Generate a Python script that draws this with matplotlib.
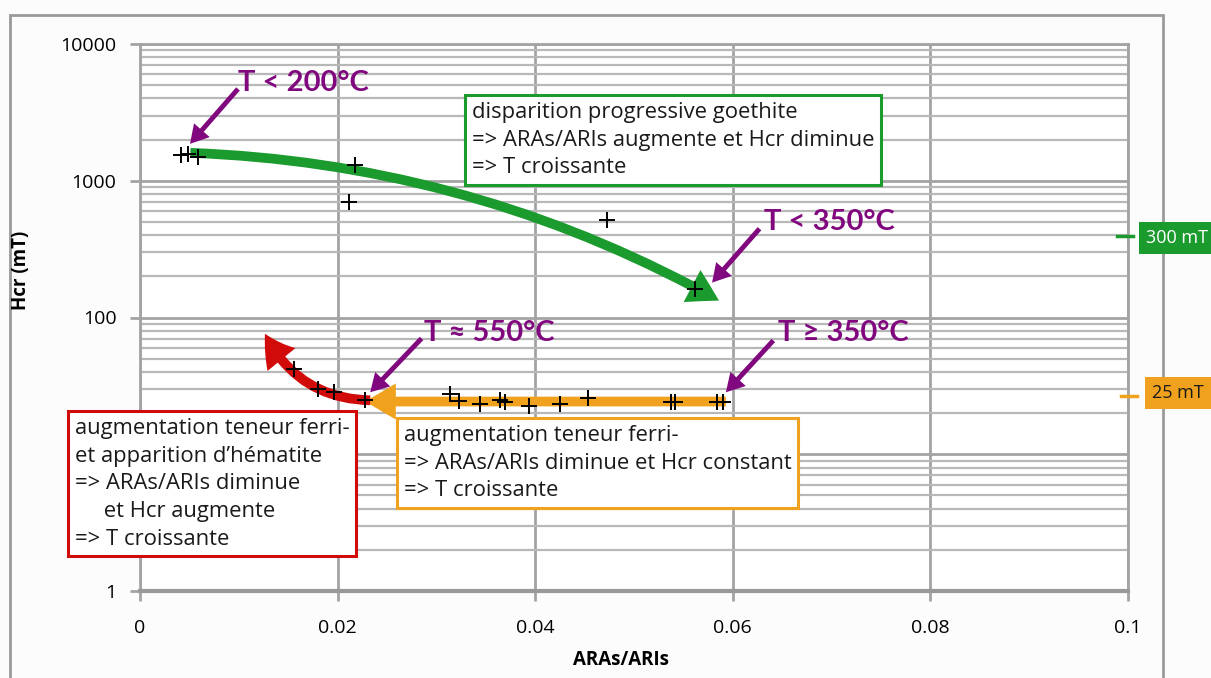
import matplotlib
matplotlib.use("Agg")
import matplotlib.pyplot as plt
from matplotlib.patches import FancyArrowPatch, Rectangle
from matplotlib.lines import Line2D
import numpy as np

# ---------------- data ----------------
ara_ari = [0.0042, 0.0049, 0.0059, 0.0218, 0.0212, 0.0473, 0.0562,
           0.0156, 0.0180, 0.0196, 0.0228, 0.0314, 0.0323, 0.0344,
           0.0364, 0.0369, 0.0394, 0.0425, 0.0453, 0.0537, 0.0541,
           0.0584, 0.0590]
hcr = [1550, 1560, 1500, 1300, 695, 517, 162,
       42, 29.8, 28.5, 24.8, 27.7, 24.4, 23.4,
       24.8, 24.1, 22.4, 23.4, 25.9, 24.1, 24.1,
       24.1, 24.1]

x_ticks = [0, 0.02, 0.04, 0.06, 0.08, 0.1]
x_tick_labels = ["0", "0.02", "0.04", "0.06", "0.08", "0.1"]
y_ticks = [1, 10, 100, 1000, 10000]
y_tick_labels = ["1", "10", "100", "1000", "10000"]

W, H = 1211, 678
fig = plt.figure(figsize=(W / 100, H / 100), dpi=100, facecolor="#fcfcfc")

def fx(px):
    return px / W

def fy(py):
    return 1 - py / H

ax = fig.add_axes([fx(140), fy(591), fx(1128) - fx(140), fy(44) - fy(591)])
ax.set_facecolor("white")
ax.set_yscale("log")
ax.set_xlim(0, 0.1)
ax.set_ylim(1, 10000)

GRID = "#a3a3a3"
ax.set_xticks(x_ticks)
ax.set_xticklabels(x_tick_labels, fontsize=14, family="Open Sans")
ax.set_yticks(y_ticks)
ylabels = ax.set_yticklabels(y_tick_labels, fontsize=14, family="Open Sans")
# the "10" label is hidden behind the red annotation box in the original
ylabels[1].set_visible(False)
ax.yaxis.set_minor_locator(matplotlib.ticker.LogLocator(base=10, subs=np.arange(2, 10)))
ax.yaxis.set_minor_formatter(matplotlib.ticker.NullFormatter())
ax.tick_params(axis="y", which="major", length=7, width=2, color=GRID, pad=10)
ax.tick_params(axis="y", which="minor", length=0)
ax.tick_params(axis="x", which="major", length=7, width=2, color=GRID, pad=13)
ax.grid(True, which="major", axis="both", color=GRID, lw=2.0)
ax.grid(True, which="minor", axis="y", color="#b8b8b8", lw=1.6)
ax.set_axisbelow(True)
for s in ["top", "left", "right"]:
    ax.spines[s].set_color(GRID)
    ax.spines[s].set_linewidth(2)
ax.spines["bottom"].set_color("#999999")
ax.spines["bottom"].set_linewidth(3)

ax.set_xlabel("ARAs/ARIs", fontsize=13.5, fontweight="bold", family="Open Sans")
ax.set_ylabel("Hcr (mT)", fontsize=13.5, fontweight="bold", family="Open Sans")
ax.xaxis.set_label_coords((621 - 140) / 988, (591 - 650) / 547)
ax.yaxis.set_label_coords((31 - 140) / 988, (591 - 270) / 547)

# ---------------- data points ----------------
ax.plot(ara_ari, hcr, linestyle="none", marker="+", color="black",
        markersize=12, markeredgewidth=1.4, zorder=6)

# ---------------- big coloured arrows ----------------
GREEN = "#1b9a2e"
ORANGE = "#f0a21e"
RED = "#d10a0a"
PURPLE = "#80077e"

def big_arrow(p0, p1, color, rad, tw=7, hw=26, hl=22, z=4):
    a = FancyArrowPatch(p0, p1, transform=ax.transData,
                        connectionstyle=f"arc3,rad={rad}",
                        arrowstyle=f"simple,head_width={hw},head_length={hl},tail_width={tw}",
                        color=color, lw=0, shrinkA=0, shrinkB=0, zorder=z, clip_on=False)
    ax.add_patch(a)

big_arrow((0.0051, 1600), (0.0586, 133), GREEN, -0.12)
big_arrow((0.0593, 24.3), (0.0228, 24.3), ORANGE, 0.0)
big_arrow((0.0233, 24.8), (0.01265, 76), RED, -0.3)

# ---------------- purple temperature labels ----------------
def purple_arrow(p0, p1):
    a = FancyArrowPatch(p0, p1, transform=ax.transData,
                        arrowstyle="simple,head_width=15,head_length=13,tail_width=3.5",
                        color=PURPLE, lw=0, shrinkA=0, shrinkB=0, zorder=7)
    ax.add_patch(a)

purple_arrow((0.00992, 4695), (0.00506, 1862))
purple_arrow((0.0627, 446), (0.0579, 180))
purple_arrow((0.0285, 70.3), (0.0233, 28.4))
purple_arrow((0.0641, 67.9), (0.0593, 28.4))

tfont = dict(color=PURPLE, fontsize=21, fontweight="bold", family="Lato",
             ha="left", va="baseline", zorder=8)
fig.text(fx(238), fy(91), "T < 200°C", **tfont)
fig.text(fx(764), fy(230), "T < 350°C", **tfont)
fig.text(fx(424), fy(341), "T ≈ 550°C", **tfont)
fig.text(fx(778), fy(341), "T ≥ 350°C", **tfont)

# ---------------- explanatory boxes ----------------
bfont = dict(fontsize=15.8, family="Open Sans", color="#1a1a1a", ha="left", va="top",
             linespacing=1.42, zorder=9)
fig.text(fx(472), fy(102),
         "disparition progressive goethite\n=> ARAs/ARIs augmente et Hcr diminue\n=> T croissante",
         bbox=dict(boxstyle="square,pad=0.3", fc="white", ec=GREEN, lw=2.2), **bfont)
fig.text(fx(404), fy(425),
         "augmentation teneur ferri-\n=> ARAs/ARIs diminue et Hcr constant\n=> T croissante",
         bbox=dict(boxstyle="square,pad=0.3", fc="white", ec=ORANGE, lw=2.2), **bfont)
fig.text(fx(75), fy(418),
         "augmentation teneur ferri-\net apparition d\u2019hématite\n=> ARAs/ARIs diminue\n     et Hcr augmente\n=> T croissante",
         bbox=dict(boxstyle="square,pad=0.3", fc="white", ec=RED, lw=2.2), **bfont)

# ---------------- right-hand reference labels ----------------
fig.add_artist(Line2D([fx(1117), fx(1133)], [fy(236), fy(236)], color=GREEN, lw=2.5))
fig.text(fx(1146), fy(238), "300 mT", fontsize=13, family="Open Sans", color="white",
         ha="left", va="center",
         bbox=dict(boxstyle="square,pad=0.4", fc=GREEN, ec="none"))
fig.add_artist(Line2D([fx(1121), fx(1137)], [fy(396), fy(396)], color=ORANGE, lw=2.5))
fig.text(fx(1152), fy(393), "25 mT", fontsize=13, family="Open Sans", color="#1a1a1a",
         ha="left", va="center",
         bbox=dict(boxstyle="square,pad=0.4", fc=ORANGE, ec="none"))

# outer frame
fig.add_artist(Rectangle((fx(10), fy(700)), fx(1163) - fx(10), fy(15) - fy(700),
                         transform=fig.transFigure, fill=False, ec="#9a9a9a", lw=2, zorder=0))

fig.savefig("out.png", dpi=100, facecolor=fig.get_facecolor())
